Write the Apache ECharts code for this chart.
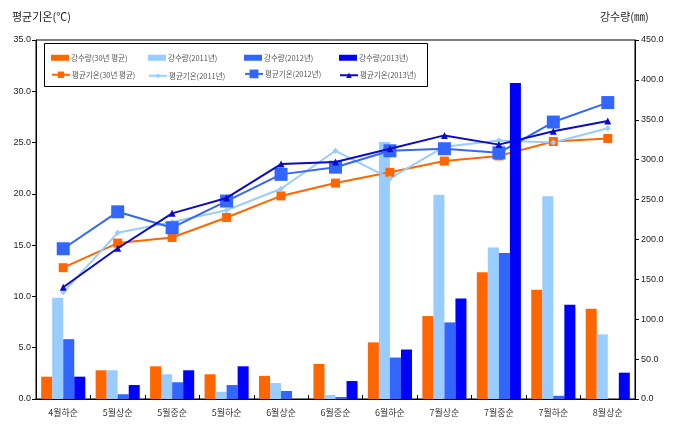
<!DOCTYPE html>
<html>
<head>
<meta charset="utf-8">
<script src="https://cdn.jsdelivr.net/npm/echarts@6/dist/echarts.min.js"></script>
<style>
html,body{margin:0;padding:0;background:#fff;}
#c{width:683px;height:435px;}
</style>
</head>
<body>
<div id="c"></div>
<script>
var categories = ['4월하순','5월상순','5월중순','5월하순','6월상순','6월중순','6월하순','7월상순','7월중순','7월하순','8월상순'];
var rain30   = [28, 36, 41, 31, 29, 44, 71, 104, 159, 137, 113];
var rain2011 = [127, 36, 31, 9, 20, 5, 322, 256, 190, 254, 81];
var rain2012 = [75, 6, 21, 17.5, 10, 2.5, 52, 96, 183, 4, 0];
var rain2013 = [28, 17.5, 36, 41, 0, 22.5, 62, 126, 396, 118, 33];
var temp30   = [12.8, 15.2, 15.75, 17.7, 19.8, 21.05, 22.1, 23.2, 23.7, 25.1, 25.4];
var temp2011 = [10.4, 16.2, 17.25, 18.4, 20.5, 24.2, 21.5, 24.6, 25.2, 25.0, 26.4];
var temp2012 = [14.65, 18.25, 16.7, 19.3, 21.9, 22.6, 24.2, 24.4, 24.0, 27.0, 28.9];
var temp2013 = [10.9, 14.7, 18.1, 19.6, 22.9, 23.1, 24.4, 25.7, 24.8, 26.1, 27.1];
var leftTicks = {min: 0, max: 35, interval: 5};
var rightTicks = {min: 0, max: 450, interval: 50};

var cOrange = '#FF6600', cLight = '#99CCFF', cBlue = '#3366FF', cDark = '#0000FF', cNavy = '#0B0BC8';
var tickFont = "'Liberation Sans Narrow','Liberation Sans',Arial,sans-serif";
var krFont = "'Noto Sans CJK KR','Noto Sans',sans-serif";

var names = ['강수량(30년 평균)','강수량(2011년)','강수량(2012년)','강수량(2013년)',
             '평균기온(30년 평균)','평균기온(2011년)','평균기온(2012년)','평균기온(2013년)'];
var colX = [51, 148, 244, 339];
var rowY = [57, 75];
var legends = [];
for (var i = 0; i < 8; i++) {
  var isBar = i < 4;
  var h = isBar ? 6 : [8, 6, 11, 7][i - 4];
  legends.push({
    data: [names[i]],
    left: colX[i % 4],
    top: rowY[isBar ? 0 : 1] - h / 2,
    padding: 0,
    itemWidth: 18,
    itemHeight: h,
    itemGap: 2,
    icon: isBar ? 'rect' : undefined,
    textStyle: {fontSize: 7.5, color: '#555', fontFamily: krFont, padding: [0, 0, 0, -3]}
  });
}

var chart = echarts.init(document.getElementById('c'), null, {renderer: 'canvas'});
chart.setOption({
  animation: false,
  backgroundColor: '#fff',
  grid: {left: 36, right: 48, top: 40, bottom: 36, show: true, borderColor: '#000', borderWidth: 1, backgroundColor: 'transparent'},
  legend: legends,
  graphic: [
    {type: 'rect', shape: {x: 44.5, y: 43.5, width: 383, height: 43}, style: {fill: 'none', stroke: '#000', lineWidth: 1}, z: 10, silent: true},
    {type: 'text', left: 12, top: 11, style: {text: '평균기온(℃)', fontSize: 11, fill: '#222', fontFamily: krFont}},
    {type: 'text', left: 600, top: 11, style: {text: '강수량(㎜)', fontSize: 11, fill: '#222', fontFamily: krFont}}
  ],
  xAxis: {
    type: 'category',
    data: categories,
    boundaryGap: true,
    axisLine: {lineStyle: {color: '#000', width: 1}},
    axisTick: {show: true, inside: true, length: 4, lineStyle: {color: '#000'}},
    axisLabel: {fontSize: 9, color: '#333', margin: 9, fontFamily: krFont, interval: 0}
  },
  yAxis: [
    {
      type: 'value', min: leftTicks.min, max: leftTicks.max, interval: leftTicks.interval,
      splitLine: {show: false},
      axisLine: {show: true, lineStyle: {color: '#000'}},
      axisTick: {show: true, length: 4, lineStyle: {color: '#000'}},
      axisLabel: {fontSize: 9, color: '#222', fontFamily: tickFont, margin: 5, formatter: function(v){return v.toFixed(1);}}
    },
    {
      type: 'value', min: rightTicks.min, max: rightTicks.max, interval: rightTicks.interval,
      position: 'right',
      splitLine: {show: false},
      axisLine: {show: true, lineStyle: {color: '#000'}},
      axisTick: {show: true, length: 4, lineStyle: {color: '#000'}},
      axisLabel: {fontSize: 9, color: '#222', fontFamily: tickFont, margin: 6, formatter: function(v){return v.toFixed(1);}}
    }
  ],
  series: [
    {name: names[0], type: 'bar', yAxisIndex: 1, data: rain30, itemStyle: {color: cOrange}, barGap: '0%', barCategoryGap: '19%', z: 2},
    {name: names[1], type: 'bar', yAxisIndex: 1, data: rain2011, itemStyle: {color: cLight}, barGap: '0%', barCategoryGap: '19%', z: 2},
    {name: names[2], type: 'bar', yAxisIndex: 1, data: rain2012, itemStyle: {color: cBlue}, barGap: '0%', barCategoryGap: '19%', z: 2},
    {name: names[3], type: 'bar', yAxisIndex: 1, data: rain2013, itemStyle: {color: cDark}, barGap: '0%', barCategoryGap: '19%', z: 5},
    {name: names[4], type: 'line', yAxisIndex: 0, data: temp30, symbol: 'rect', symbolSize: 9,
      lineStyle: {color: cOrange, width: 2}, itemStyle: {color: cOrange}, z: 3},
    {name: names[5], type: 'line', yAxisIndex: 0, data: temp2011, symbol: 'diamond', symbolSize: 6,
      lineStyle: {color: cLight, width: 2}, itemStyle: {color: cLight}, z: 3},
    {name: names[6], type: 'line', yAxisIndex: 0, data: temp2012, symbol: 'rect', symbolSize: 13,
      lineStyle: {color: cBlue, width: 2}, itemStyle: {color: cBlue}, z: 3},
    {name: names[7], type: 'line', yAxisIndex: 0, data: temp2013, symbol: 'triangle', symbolSize: 7,
      lineStyle: {color: cNavy, width: 2}, itemStyle: {color: cNavy}, z: 4}
  ]
});
</script>
</body>
</html>
